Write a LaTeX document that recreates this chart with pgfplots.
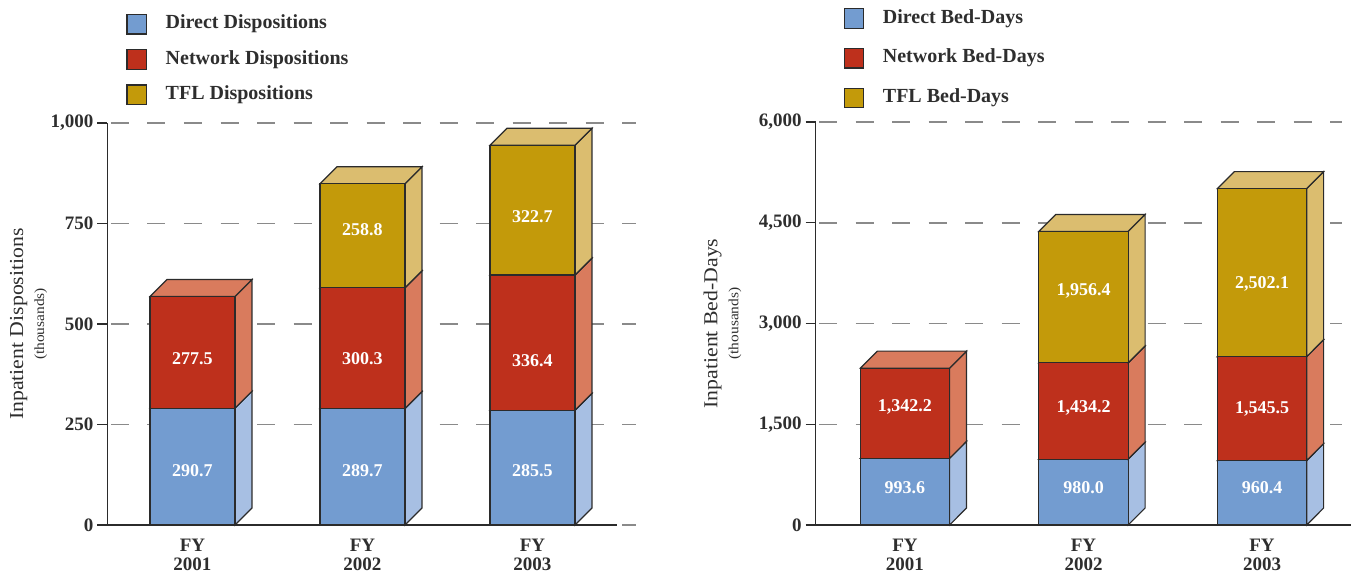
\documentclass[border=0pt]{standalone}
\usepackage{fontspec}
\setmainfont{Liberation Serif}
\newfontfamily\widefont[FakeStretch=1.1]{Liberation Serif}
\usepackage{pgfplots}
\usepackage{pgfplotstable}
\pgfplotsset{compat=1.18}

\definecolor{dirF}{HTML}{739CD0}
\definecolor{dirS}{HTML}{A7BFE3}
\definecolor{netF}{HTML}{BE301C}
\definecolor{netS}{HTML}{D97B5D}
\definecolor{tflF}{HTML}{C39A0A}
\definecolor{tflS}{HTML}{DBBD6F}
\definecolor{edge}{HTML}{2B2B2B}
\definecolor{txt}{HTML}{2E2E2E}
\definecolor{gridc}{HTML}{8A8A8A}

\pgfkeys{/pgf/number format/assume math mode=true}

% Inpatient dispositions (thousands); l* = height of the value label
\pgfplotstableread{
x direct network tfl   ldirect lnetwork ltfl
0 290.7  277.5   0     135     415      0
1 289.7  300.3   258.8 135     415      734
2 285.5  336.4   322.7 135     410      767
}\dispdata

% Inpatient bed-days (thousands)
\pgfplotstableread{
x direct network tfl    ldirect lnetwork ltfl
0 993.6  1342.2  0      551     1761     0
1 980.0  1434.2  1956.4 551     1746     3488
2 960.4  1545.5  2502.1 551     1727     3588
}\beddata

\newcommand{\vlabel}[1]{\pgfmathprintnumber[fixed, fixed zerofill, precision=1, 1000 sep={,}]{#1}}

\tikzset{vallabel/.style={font=\bfseries\fontsize{9}{10}\selectfont, text=white, anchor=center, inner sep=0pt}}

% one block of a 3-D bar: #1 x, #2 base, #3 value, #4 label y, #5 front, #6 side
\newcommand{\cube}[6]{%
  \pgfmathsetmacro\cXa{#1-0.25}%
  \pgfmathsetmacro\cXb{#1+0.25}%
  \pgfmathsetmacro\cXc{#1+0.25+\dX}%
  \pgfmathsetmacro\cXd{#1-0.25+\dX}%
  \pgfmathsetmacro\cYb{#2+#3}%
  \pgfmathsetmacro\cYc{#2+\dY}%
  \pgfmathsetmacro\cYd{#2+#3+\dY}%
  \edef\cubecode{%
    \noexpand\addplot[face, fill=#6] coordinates {(\cXb,#2) (\cXc,\cYc) (\cXc,\cYd) (\cXb,\cYb)} -- cycle;%
    \noexpand\addplot[face, fill=#6] coordinates {(\cXa,\cYb) (\cXb,\cYb) (\cXc,\cYd) (\cXd,\cYd)} -- cycle;%
    \noexpand\addplot[face, fill=#5] coordinates {(\cXa,#2) (\cXb,#2) (\cXb,\cYb) (\cXa,\cYb)} -- cycle;%
    \noexpand\node[vallabel] at (axis cs:#1,#4) {\noexpand\vlabel{#3}};%
  }%
  \cubecode
}

% all stacked bars of one table
\newcommand{\drawbars}[1]{%
  \pgfplotsinvokeforeach{0,1,2}{%
    \pgfplotstablegetelem{##1}{x}\of#1\edef\bX{\pgfplotsretval}%
    \pgfplotstablegetelem{##1}{direct}\of#1\edef\bA{\pgfplotsretval}%
    \pgfplotstablegetelem{##1}{network}\of#1\edef\bB{\pgfplotsretval}%
    \pgfplotstablegetelem{##1}{tfl}\of#1\edef\bC{\pgfplotsretval}%
    \pgfplotstablegetelem{##1}{ldirect}\of#1\edef\lA{\pgfplotsretval}%
    \pgfplotstablegetelem{##1}{lnetwork}\of#1\edef\lB{\pgfplotsretval}%
    \pgfplotstablegetelem{##1}{ltfl}\of#1\edef\lC{\pgfplotsretval}%
    \edef\tmp{\noexpand\cube{\bX}{0}{\bA}{\lA}{dirF}{dirS}}\tmp
    \edef\tmp{\noexpand\cube{\bX}{\bA}{\bB}{\lB}{netF}{netS}}\tmp
    \pgfmathparse{\bC>0}%
    \ifdim\pgfmathresult pt>0.5pt
      \pgfmathsetmacro\bBase{\bA+\bB}%
      \edef\tmp{\noexpand\cube{\bX}{\bBase}{\bC}{\lC}{tflF}{tflS}}\tmp
    \fi
  }%
}

\pgfplotsset{
  face/.style={forget plot, draw=edge, line width=0.6pt, line join=miter},
  barchart/.style={
    scale only axis,
    axis lines*=left,
    axis line style={-},
    x axis line style={draw=none},
    y axis line style={draw=edge, line width=0.75pt},
    tick align=outside,
    major tick length=5pt,
    ytick style={draw=edge, line width=0.6pt},
    xtick style={draw=none},
    xtick={0,1,2},
    xticklabels={{FY\\2001},{FY\\2002},{FY\\2003}},
    xticklabel style={align=center, font=\bfseries\fontsize{9.5}{9.25}\selectfont, text=txt, yshift=1.5pt},
    yticklabel style={font=\bfseries\fontsize{9.5}{11}\selectfont, text=txt, xshift=1.5pt},
    /pgf/number format/1000 sep={,},
    scaled y ticks=false,
    ymajorgrids,
    major grid style={draw=gridc, line width=0.75pt, dash pattern=on 9pt off 9.25pt, dash phase=16.5pt},
    clip=false,
    ymin=0, xmin=-0.5,
    legend cell align=left,
    legend image code/.code={\draw[##1, line width=0.6pt] (0pt,-4.875pt) rectangle (9.75pt,4.875pt);},
    legend style={draw=none, fill=none, inner sep=0pt, outer sep=0pt,
      at={(rel axis cs:0,1)}, anchor=north west,
      font=\bfseries\fontsize{10}{12}\selectfont, text=txt,
      nodes={inner sep=0pt, text height=7pt, text depth=2.5pt},
      /tikz/every odd column/.style={column sep=9.25pt}},
    ylabel style={align=center, inner sep=0pt, text=txt, anchor=south},
  },
}

\begin{document}
\begin{tikzpicture}
\useasboundingbox (-53.75pt,-24pt) rectangle (625.25pt,262.5pt);

\begin{axis}[barchart,
  at={(0pt,0pt)}, anchor=south west,
  width=264pt, height=201pt,
  xmax=2.606, ymax=1000,
  ytick={0,250,500,750,1000},
  ylabel={{\widefont\fontsize{9.9}{11}\selectfont Inpatient Dispositions}\\[-1.5pt]{\widefont\fontsize{7}{8}\selectfont (thousands)}},
  ylabel style={at={([xshift=-30pt]rel axis cs:0,0.5)}},
  legend style={xshift=9.5pt, yshift=54.5pt, row sep=7.25pt},
]
\def\dX{0.1}\def\dY{42.3}
\addlegendimage{fill=dirF, draw=edge}\addlegendentry{Direct Dispositions}
\addlegendimage{fill=netF, draw=edge}\addlegendentry{Network Dispositions}
\addlegendimage{fill=tflF, draw=edge}\addlegendentry{TFL Dispositions}
\drawbars{\dispdata}
\draw[edge, line width=1pt] (axis cs:-0.5,0) -- (axis cs:2.5,0);
\end{axis}

\begin{axis}[barchart,
  at={(354.1pt,0pt)}, anchor=south west,
  width=263.15pt, height=201.5pt,
  xmax=2.448, ymax=6000,
  ytick={0,1500,3000,4500,6000},
  ylabel={{\widefont\fontsize{9.9}{11}\selectfont Inpatient Bed-Days}\\[-1.5pt]{\widefont\fontsize{7}{8}\selectfont (thousands)}},
  ylabel style={at={([xshift=-37pt]rel axis cs:0,0.5)}},
  legend style={xshift=14pt, yshift=56.9pt, row sep=9.5pt},
]
\def\dX{0.095}\def\dY{253}
\addlegendimage{fill=dirF, draw=edge}\addlegendentry{Direct Bed-Days}
\addlegendimage{fill=netF, draw=edge}\addlegendentry{Network Bed-Days}
\addlegendimage{fill=tflF, draw=edge}\addlegendentry{TFL Bed-Days}
\drawbars{\beddata}
\draw[edge, line width=1pt] (axis cs:-0.5,0) -- (axis cs:2.5,0);
\end{axis}
\end{tikzpicture}
\end{document}
